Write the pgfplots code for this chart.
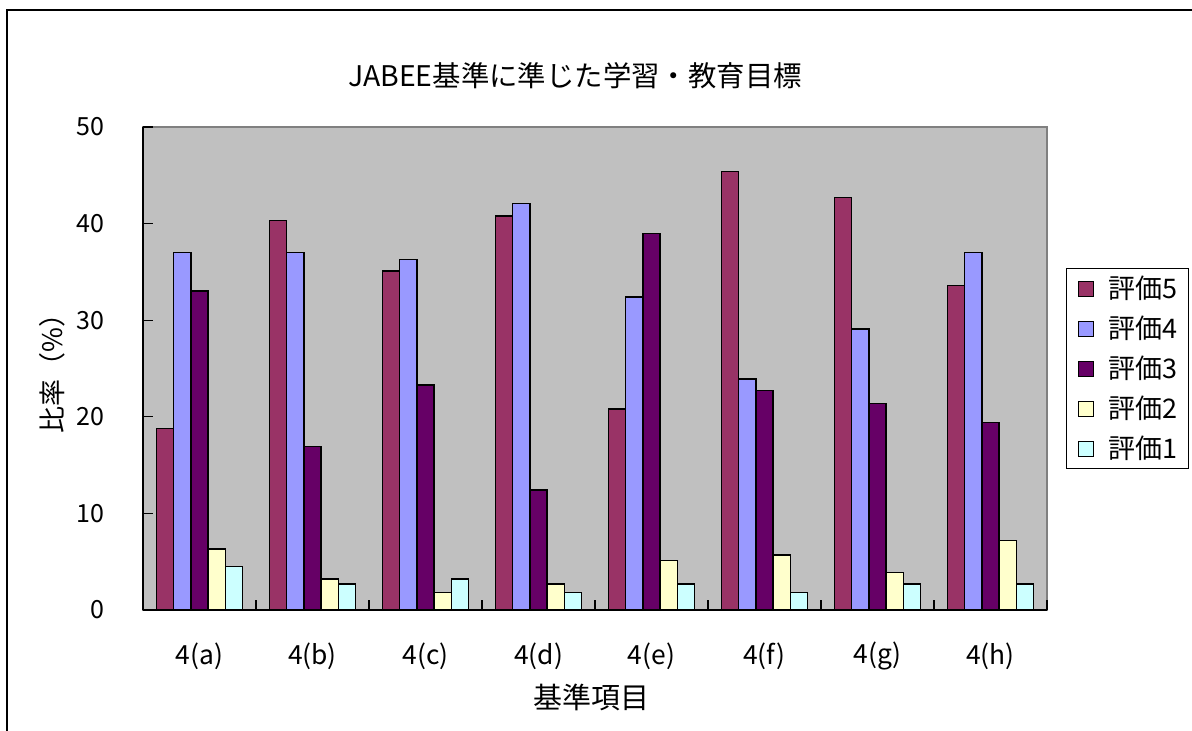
\documentclass[border=0pt]{standalone}
\usepackage{fontspec}
\setmainfont{Noto Sans CJK JP}
\usepackage{pgfplots}
\pgfplotsset{compat=1.18}
\definecolor{cfive}{HTML}{993366}
\definecolor{cfour}{HTML}{9999FF}
\definecolor{cthree}{HTML}{660066}
\definecolor{ctwo}{HTML}{FFFFCC}
\definecolor{cone}{HTML}{CCFFFF}
\definecolor{bg}{HTML}{C0C0C0}
\definecolor{frm}{HTML}{808080}
\begin{document}
\begin{tikzpicture}
\path[use as bounding box] (0,0) rectangle (596pt,365.5pt);
\draw[black, line width=0.8pt] (3.5pt,-2pt) -- (3.5pt,360.5pt) -- (600pt,360.5pt);
\node[font=\fontsize{14.2}{16}\selectfont] at (287.5pt,327.5pt) {JABEE基準に準じた学習・教育目標};
\node[font=\fontsize{13.5}{15}\selectfont, rotate=90] at (26pt,182pt) {比率（\%）};
\node[font=\fontsize{14.5}{16}\selectfont] at (295.5pt,17pt) {基準項目};
\begin{axis}[
  at={(71.5pt,60.5pt)}, anchor=south west,
  scale only axis, width=452pt, height=241.5pt,
  xmin=0.5, xmax=8.5, ymin=0, ymax=50,
  ybar=0pt, bar width=0.152,
  axis background/.style={fill=bg, draw=frm, line width=0.6pt},
  axis x line*=bottom, axis y line*=left,
  x axis line style={-, black, line width=0.8pt},
  y axis line style={-, black, line width=0.8pt},
  tick align=inside,
  major tick length=5pt, minor tick length=5pt,
  tick style={black, line width=0.6pt},
  ytick={0,10,20,30,40,50},
  xtick={1,2,3,4,5,6,7,8},
  xticklabels={4(a),4(b),4(c),4(d),4(e),4(f),4(g),4(h)},
  minor xtick={0.5,1.5,2.5,3.5,4.5,5.5,6.5,7.5,8.5},
  major x tick style={draw=none},
  /pgf/number format/assume math mode=true,
  yticklabel style={font=\fontsize{12.5}{14}\selectfont, anchor=east, xshift=-16pt},
  xticklabel style={font=\fontsize{13.2}{15}\selectfont, anchor=center, yshift=-23pt},
  legend style={at={(1,0.708)}, anchor=north west, xshift=9.5pt,
    draw=black, fill=white, line width=0.6pt,
    font=\fontsize{13.5}{15}\selectfont,
    inner xsep=5.5pt, inner ysep=0pt, row sep=0pt, column sep=7.5pt,
    nodes={inner sep=0pt, minimum height=20pt}},
  legend cell align=left,
  legend image code/.code={\draw[#1, line width=0.6pt] (0pt,-3.75pt) rectangle (7.5pt,3.75pt);},
  every axis plot/.append style={draw=black, line width=0.75pt},
]
\addplot[fill=cfive] coordinates {(1,18.8) (2,40.3) (3,35.1) (4,40.8) (5,20.8) (6,45.4) (7,42.7) (8,33.6)};
\addplot[fill=cfour] coordinates {(1,37.0) (2,37.0) (3,36.3) (4,42.1) (5,32.4) (6,23.9) (7,29.1) (8,37.0)};
\addplot[fill=cthree] coordinates {(1,33.0) (2,16.9) (3,23.3) (4,12.4) (5,39.0) (6,22.7) (7,21.4) (8,19.4)};
\addplot[fill=ctwo] coordinates {(1,6.3) (2,3.2) (3,1.8) (4,2.7) (5,5.1) (6,5.7) (7,3.9) (8,7.2)};
\addplot[fill=cone] coordinates {(1,4.5) (2,2.7) (3,3.2) (4,1.8) (5,2.7) (6,1.8) (7,2.7) (8,2.7)};
\legend{評価5,評価4,評価3,評価2,評価1}
\end{axis}
\end{tikzpicture}
\end{document}
